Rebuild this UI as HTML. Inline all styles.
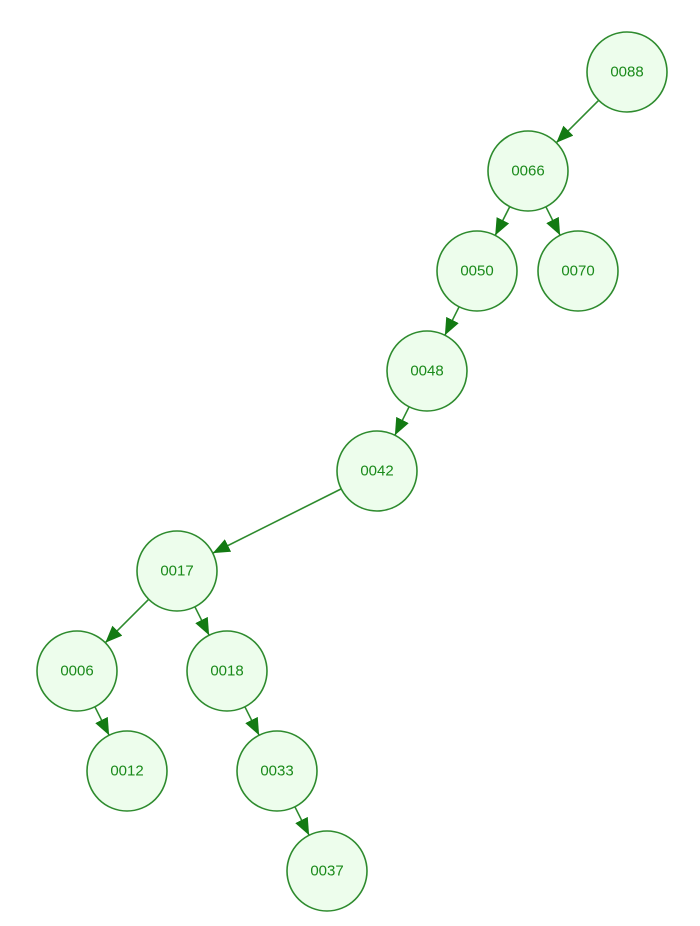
<!DOCTYPE html>
<html><head><meta charset="utf-8"><style>
html,body{margin:0;padding:0;background:#fff;}
svg{display:block;}
text{font-family:"Liberation Sans",sans-serif;font-size:15px;fill:#1a8a1a;text-anchor:middle;dominant-baseline:central;}
circle{fill:#edfdec;stroke:#2e8b2e;stroke-width:1.6;}
line{stroke:#2e8b2e;stroke-width:1.6;}
</style></head><body>
<svg width="700" height="926" viewBox="0 0 700 926">
<defs><marker id="a" markerUnits="userSpaceOnUse" markerWidth="18" markerHeight="16" refX="17" refY="7" orient="auto"><path d="M0,0 L17,7 L0,14 z" fill="#137a13"/></marker></defs>
<g marker-end="url(#a)">
<line x1="598.7" y1="100.3" x2="556.3" y2="142.7"/>
<line x1="509.8" y1="206.6" x2="495.2" y2="235.4"/>
<line x1="545.9" y1="206.8" x2="560.1" y2="235.2"/>
<line x1="459.1" y1="306.8" x2="444.9" y2="335.2"/>
<line x1="409.1" y1="406.8" x2="394.9" y2="435.2"/>
<line x1="341.2" y1="488.9" x2="212.8" y2="553.1"/>
<line x1="148.7" y1="599.3" x2="105.3" y2="642.7"/>
<line x1="194.9" y1="606.8" x2="209.1" y2="635.2"/>
<line x1="94.9" y1="706.8" x2="109.1" y2="735.2"/>
<line x1="244.9" y1="706.8" x2="259.1" y2="735.2"/>
<line x1="294.9" y1="806.8" x2="309.1" y2="835.2"/>
</g>
<circle cx="627" cy="72" r="40"/><text x="627" y="72">0088</text>
<circle cx="528" cy="171" r="40"/><text x="528" y="171">0066</text>
<circle cx="477" cy="271" r="40"/><text x="477" y="271">0050</text>
<circle cx="578" cy="271" r="40"/><text x="578" y="271">0070</text>
<circle cx="427" cy="371" r="40"/><text x="427" y="371">0048</text>
<circle cx="377" cy="471" r="40"/><text x="377" y="471">0042</text>
<circle cx="177" cy="571" r="40"/><text x="177" y="571">0017</text>
<circle cx="77" cy="671" r="40"/><text x="77" y="671">0006</text>
<circle cx="227" cy="671" r="40"/><text x="227" y="671">0018</text>
<circle cx="127" cy="771" r="40"/><text x="127" y="771">0012</text>
<circle cx="277" cy="771" r="40"/><text x="277" y="771">0033</text>
<circle cx="327" cy="871" r="40"/><text x="327" y="871">0037</text>
</svg>
</body></html>
